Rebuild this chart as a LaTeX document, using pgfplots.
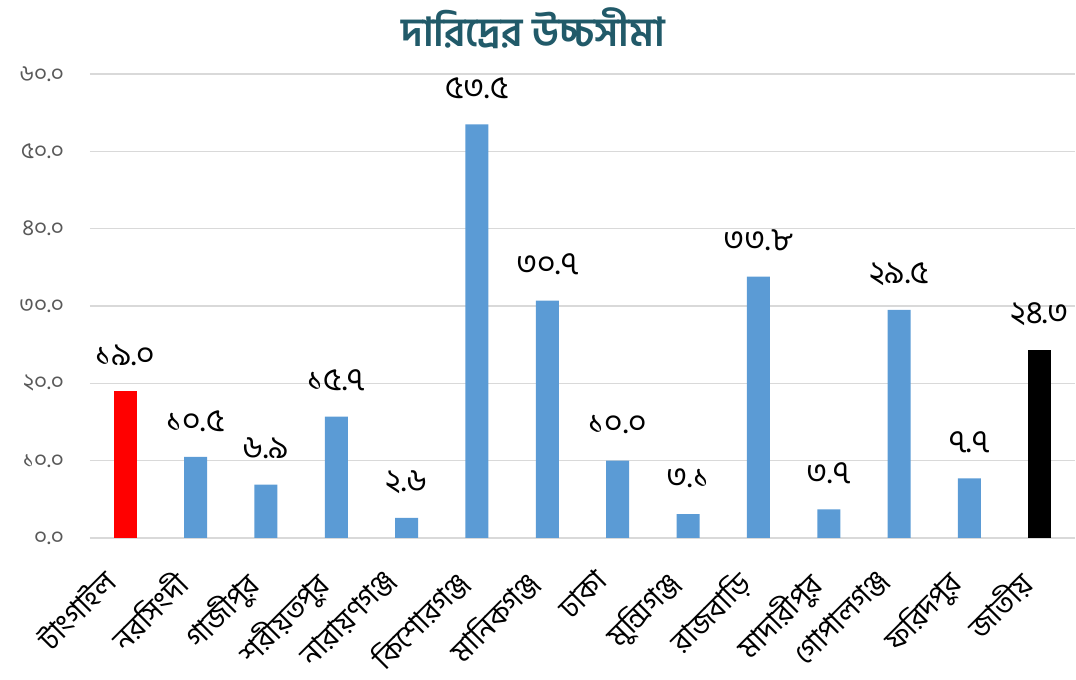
\documentclass[border=0pt]{standalone}
\usepackage{fontspec}
\usepackage{pgfplots}
\pgfplotsset{compat=1.18}
\newfontfamily\bnfont[Script=Bengali]{Hind Siliguri}
\setmainfont[Script=Bengali]{Hind Siliguri}
\definecolor{barblue}{HTML}{5B9BD5}
\definecolor{titlecol}{HTML}{215A69}
\definecolor{tickgray}{HTML}{595959}
\definecolor{gridgray}{HTML}{D9D9D9}
\begin{document}
\begin{tikzpicture}
\path[use as bounding box] (0,0) rectangle (807pt,510pt);
\node[font=\bnfont\bfseries\fontsize{30}{34}\selectfont, text=titlecol] at (400pt,489pt) {দারিদ্রের উচ্চসীমা};
\begin{axis}[
  at={(67.5pt,106.5pt)}, anchor=south west,
  scale only axis, width=738.75pt, height=348pt,
  ybar, bar width=17.25pt, bar shift=0pt,
  xmin=-0.5, xmax=13.5, ymin=0, ymax=60,
  xtick={0,...,13},
  xticklabels={টাংগাইল,নরসিংদী,গাজীপুর,শরীয়তপুর,নারায়ণগঞ্জ,কিশোরগঞ্জ,মানিকগঞ্জ,ঢাকা,মুন্সিগঞ্জ,রাজবাড়ি,মাদারীপুর,গোপালগঞ্জ,ফরিদপুর,জাতীয়},
  ytick={0,10,20,30,40,50,60},
  yticklabels={০.০,১০.০,২০.০,৩০.০,৪০.০,৫০.০,৬০.০},
  major tick length=0pt,
  ymajorgrids, grid style={gridgray, line width=0.8pt},
  axis x line*=bottom, axis y line*=left,
  x axis line style={gridgray, line width=0.8pt, -},
  y axis line style={draw=none},
  xticklabel style={font=\bnfont\fontsize{22}{25}\selectfont, yshift=-22pt, xshift=-18pt, rotate=45, anchor=north east, inner sep=0pt},
  yticklabel style={font=\bnfont\fontsize{17}{19}\selectfont, text=tickgray, xshift=-16pt},
  point meta=explicit symbolic,
  nodes near coords,
  nodes near coords style={font=\bnfont\fontsize{24}{26}\selectfont, text=black, anchor=center, yshift=27pt},
]
\addplot[fill=red, draw=none] coordinates {(0,19.0) [১৯.০]};
\addplot[fill=barblue, draw=none] coordinates {
(1,10.5) [১০.৫]
(2,6.9) [৬.৯]
(3,15.7) [১৫.৭]
(4,2.6) [২.৬]
(5,53.5) [৫৩.৫]
(6,30.7) [৩০.৭]
(7,10.0) [১০.০]
(8,3.1) [৩.১]
(9,33.8) [৩৩.৮]
(10,3.7) [৩.৭]
(11,29.5) [২৯.৫]
(12,7.7) [৭.৭]
};
\addplot[fill=black, draw=none] coordinates {(13,24.3) [২৪.৩]};
\end{axis}
\end{tikzpicture}
\end{document}
